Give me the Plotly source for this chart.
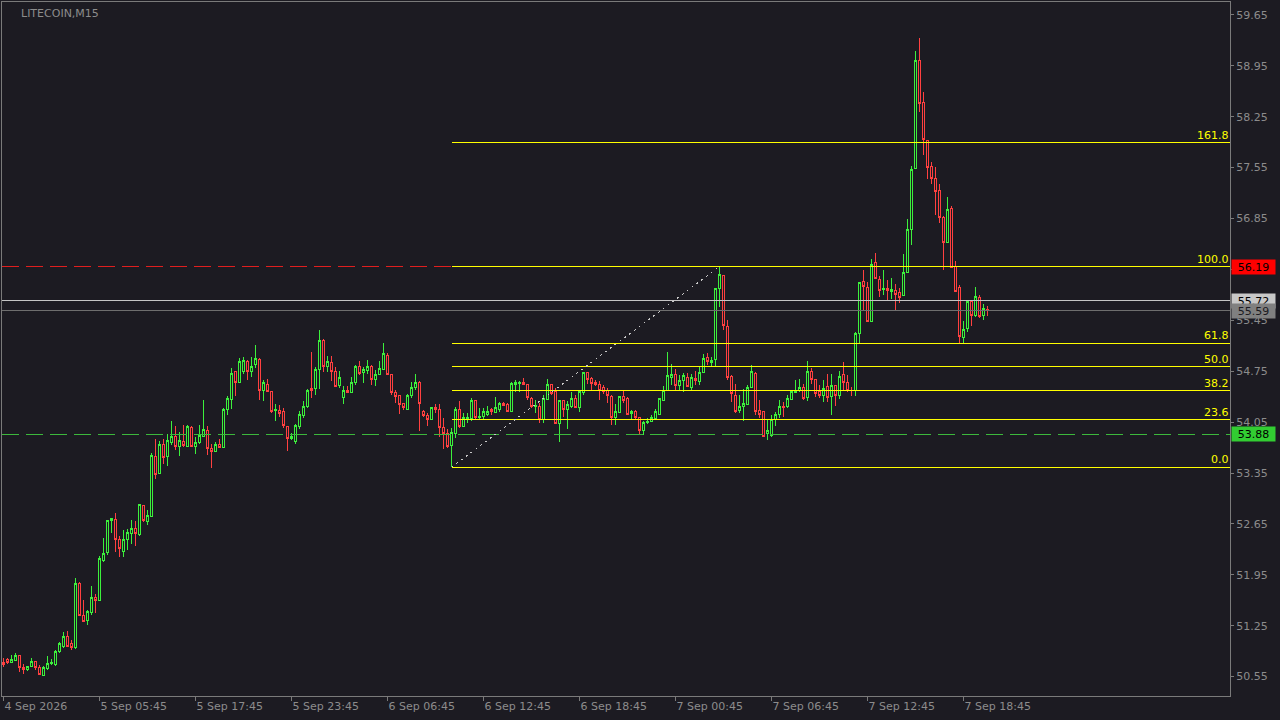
import plotly.graph_objects as go

# ---------------- data ----------------
open_ = [50.74, 50.78, 50.75, 50.77, 50.84, 50.68, 50.65, 50.69, 50.76, 50.67,
         50.56, 50.66, 50.73, 50.71, 50.89, 50.97, 51.10, 51.00, 50.95, 51.83,
         51.39, 51.32, 51.43, 51.64, 51.59, 52.15, 52.25, 52.69, 52.71, 52.44,
         52.27, 52.44, 52.52, 52.58, 52.51, 52.91, 52.68, 52.75, 53.58, 53.34,
         53.74, 53.58, 53.77, 53.85, 53.71, 53.79, 53.71, 53.98, 53.71, 53.77,
         53.85, 53.94, 53.69, 53.64, 53.74, 53.70, 54.23, 54.36, 54.74, 54.59,
         54.74, 54.89, 54.74, 54.84, 54.91, 54.48, 54.57, 54.47, 54.21, 54.21,
         54.19, 53.99, 53.82, 53.78, 53.99, 54.14, 54.26, 54.51, 54.51, 54.78,
         55.17, 54.81, 54.87, 54.75, 54.55, 54.39, 54.49, 54.46, 54.59, 54.82,
         54.73, 54.76, 54.81, 54.63, 54.70, 54.78, 54.97, 54.71, 54.46, 54.41,
         54.30, 54.23, 54.41, 54.52, 54.60, 54.19, 54.14, 54.09, 54.25, 54.22,
         53.98, 53.89, 53.73, 53.90, 54.23, 53.99, 54.10, 54.10, 54.35, 54.11,
         54.13, 54.15, 54.22, 54.18, 54.22, 54.31, 54.29, 54.19, 54.57, 54.58,
         54.59, 54.57, 54.38, 54.26, 54.27, 54.09, 54.36, 54.57, 54.47, 54.03,
         54.35, 54.23, 54.27, 54.38, 54.25, 54.46, 54.73, 54.65, 54.60, 54.57,
         54.53, 54.48, 54.40, 54.11, 54.18, 54.40, 54.38, 54.17, 54.19, 54.12,
         53.93, 54.04, 54.06, 54.10, 54.16, 54.35, 54.48, 54.67, 54.70, 54.56,
         54.62, 54.67, 54.52, 54.65, 54.61, 54.73, 54.94, 54.87, 54.91, 55.89,
         56.07, 55.37, 54.68, 54.42, 54.21, 54.27, 54.29, 54.53, 54.72, 54.21,
         54.19, 53.90, 53.86, 54.09, 54.15, 54.27, 54.26, 54.36, 54.46, 54.48,
         54.52, 54.39, 54.75, 54.64, 54.47, 54.42, 54.54, 54.40, 54.55, 54.42,
         54.70, 54.60, 54.49, 54.48, 55.27, 55.99, 55.90, 55.44, 56.25, 56.01,
         55.87, 55.89, 55.84, 55.86, 55.83, 55.79, 56.11, 56.70, 57.54, 59.03,
         58.45, 57.93, 57.56, 57.40, 57.23, 56.86, 56.52, 56.99, 56.19, 55.90,
         55.22, 55.34, 55.71, 55.51, 55.77, 55.51, 55.60]
high = [50.80, 50.80, 50.85, 50.87, 50.85, 50.73, 50.69, 50.81, 50.77, 50.71,
        50.70, 50.83, 50.79, 50.91, 51.02, 51.16, 51.18, 51.05, 51.91, 51.85,
        51.61, 51.47, 51.79, 51.69, 52.21, 52.46, 52.70, 52.73, 52.80, 52.48,
        52.57, 52.58, 52.70, 52.69, 52.92, 52.91, 52.84, 53.63, 53.82, 53.79,
        53.82, 53.88, 54.07, 53.99, 53.92, 54.01, 54.01, 53.99, 53.84, 54.01,
        54.35, 53.99, 53.75, 53.78, 53.82, 54.24, 54.41, 54.79, 54.75, 54.93,
        54.94, 54.90, 54.94, 55.11, 54.93, 54.63, 54.64, 54.48, 54.30, 54.29,
        54.25, 54.00, 53.90, 54.02, 54.20, 54.34, 54.50, 55.01, 54.81, 55.32,
        55.19, 54.96, 54.96, 54.81, 54.75, 54.55, 54.55, 54.67, 54.84, 54.89,
        54.81, 54.91, 54.84, 54.76, 54.89, 55.14, 55.00, 54.71, 54.49, 54.42,
        54.31, 54.44, 54.60, 54.71, 54.62, 54.21, 54.17, 54.25, 54.30, 54.30,
        54.10, 53.96, 53.97, 54.26, 54.34, 54.17, 54.17, 54.38, 54.36, 54.24,
        54.25, 54.27, 54.25, 54.39, 54.32, 54.32, 54.31, 54.60, 54.63, 54.62,
        54.65, 54.58, 54.39, 54.35, 54.31, 54.42, 54.64, 54.58, 54.52, 54.35,
        54.36, 54.34, 54.47, 54.42, 54.47, 54.74, 54.74, 54.67, 54.63, 54.61,
        54.56, 54.52, 54.42, 54.30, 54.41, 54.48, 54.39, 54.21, 54.22, 54.12,
        54.06, 54.11, 54.15, 54.23, 54.38, 54.55, 55.01, 54.85, 54.78, 54.70,
        54.72, 54.73, 54.71, 54.75, 54.81, 54.99, 55.00, 54.95, 55.90, 56.19,
        56.07, 55.45, 54.70, 54.57, 54.42, 54.50, 54.56, 54.84, 54.74, 54.36,
        54.19, 54.08, 54.15, 54.19, 54.35, 54.33, 54.42, 54.49, 54.63, 54.64,
        54.58, 54.89, 54.80, 54.64, 54.56, 54.63, 54.71, 54.71, 54.56, 54.75,
        54.87, 54.70, 54.53, 55.29, 55.98, 56.14, 55.98, 56.30, 56.37, 56.06,
        56.14, 56.01, 56.03, 55.95, 55.89, 56.36, 56.85, 57.57, 59.15, 59.33,
        58.59, 57.93, 57.63, 57.56, 57.33, 56.88, 57.15, 57.02, 56.26, 55.94,
        55.44, 55.71, 55.72, 55.91, 55.80, 55.67, 55.65]
low = [50.68, 50.72, 50.74, 50.77, 50.61, 50.59, 50.63, 50.68, 50.64, 50.57,
       50.56, 50.64, 50.71, 50.69, 50.88, 50.95, 50.97, 50.92, 50.93, 51.39,
       51.31, 51.26, 51.40, 51.42, 51.59, 52.12, 52.22, 52.53, 52.27, 52.20,
       52.20, 52.29, 52.38, 52.34, 52.49, 52.68, 52.64, 52.75, 53.27, 53.34,
       53.47, 53.45, 53.73, 53.66, 53.58, 53.71, 53.71, 53.71, 53.61, 53.75,
       53.85, 53.60, 53.42, 53.64, 53.69, 53.70, 54.15, 54.23, 54.41, 54.59,
       54.71, 54.63, 54.67, 54.79, 54.35, 54.34, 54.46, 54.17, 54.06, 54.12,
       53.97, 53.65, 53.81, 53.75, 53.95, 54.11, 54.25, 54.38, 54.42, 54.50,
       54.74, 54.74, 54.62, 54.53, 54.52, 54.30, 54.45, 54.45, 54.56, 54.70,
       54.59, 54.71, 54.56, 54.55, 54.70, 54.78, 54.71, 54.42, 54.31, 54.16,
       54.22, 54.21, 54.38, 54.49, 53.93, 54.12, 54.00, 54.08, 54.17, 53.85,
       53.68, 53.69, 53.43, 53.83, 53.97, 53.99, 54.04, 54.06, 54.09, 54.09,
       54.09, 54.13, 54.15, 54.17, 54.19, 54.27, 54.19, 54.19, 54.47, 54.47,
       54.56, 54.36, 54.25, 54.18, 54.04, 54.04, 54.35, 54.42, 54.03, 53.77,
       54.12, 53.95, 54.25, 54.24, 54.19, 54.42, 54.58, 54.49, 54.54, 54.35,
       54.44, 54.31, 54.01, 54.01, 54.18, 54.31, 54.15, 54.08, 54.08, 53.87,
       53.87, 54.02, 54.06, 54.08, 54.16, 54.35, 54.48, 54.56, 54.49, 54.48,
       54.46, 54.54, 54.49, 54.56, 54.56, 54.72, 54.84, 54.81, 54.81, 55.63,
       55.32, 54.63, 54.33, 54.17, 54.17, 54.06, 54.29, 54.52, 54.15, 54.10,
       53.85, 53.81, 53.85, 53.99, 54.10, 54.12, 54.25, 54.35, 54.45, 54.47,
       54.35, 54.34, 54.58, 54.40, 54.38, 54.33, 54.32, 54.15, 54.27, 54.37,
       54.49, 54.46, 54.41, 54.41, 55.12, 55.59, 55.43, 55.44, 56.03, 55.77,
       55.80, 55.73, 55.75, 55.59, 55.69, 55.79, 56.11, 56.49, 57.54, 58.31,
       57.72, 57.39, 57.33, 56.90, 56.79, 56.14, 56.51, 56.18, 55.84, 55.13,
       55.12, 55.29, 55.37, 55.49, 55.48, 55.45, 55.51]
close = [50.71, 50.74, 50.78, 50.84, 50.68, 50.65, 50.69, 50.76, 50.68, 50.58,
         50.67, 50.73, 50.74, 50.90, 51.01, 51.10, 50.97, 50.95, 51.83, 51.39,
         51.31, 51.45, 51.64, 51.59, 52.17, 52.24, 52.69, 52.73, 52.44, 52.31,
         52.44, 52.53, 52.58, 52.52, 52.92, 52.69, 52.76, 53.59, 53.33, 53.74,
         53.57, 53.80, 53.85, 53.71, 53.80, 53.73, 53.99, 53.71, 53.77, 53.86,
         53.95, 53.69, 53.64, 53.74, 53.70, 54.23, 54.38, 54.72, 54.59, 54.89,
         54.90, 54.74, 54.82, 54.93, 54.48, 54.59, 54.47, 54.19, 54.22, 54.17,
         54.00, 53.83, 53.85, 54.00, 54.16, 54.27, 54.49, 54.48, 54.78, 55.17,
         54.81, 54.89, 54.74, 54.54, 54.67, 54.49, 54.46, 54.60, 54.81, 54.72,
         54.77, 54.82, 54.63, 54.71, 54.79, 54.99, 54.71, 54.46, 54.40, 54.29,
         54.25, 54.41, 54.53, 54.60, 54.30, 54.14, 54.09, 54.25, 54.23, 53.97,
         53.89, 53.71, 53.91, 54.22, 53.99, 54.11, 54.11, 54.35, 54.12, 54.13,
         54.19, 54.20, 54.19, 54.25, 54.31, 54.28, 54.19, 54.58, 54.60, 54.60,
         54.57, 54.39, 54.26, 54.28, 54.09, 54.38, 54.57, 54.45, 54.03, 54.35,
         54.23, 54.29, 54.38, 54.25, 54.47, 54.73, 54.64, 54.58, 54.57, 54.48,
         54.47, 54.42, 54.12, 54.20, 54.40, 54.35, 54.16, 54.20, 54.12, 53.93,
         54.05, 54.06, 54.11, 54.19, 54.37, 54.48, 54.69, 54.71, 54.56, 54.62,
         54.69, 54.54, 54.67, 54.62, 54.73, 54.93, 54.88, 54.90, 55.89, 56.08,
         55.38, 54.67, 54.44, 54.19, 54.27, 54.31, 54.53, 54.75, 54.19, 54.16,
         53.85, 53.93, 54.09, 54.15, 54.27, 54.25, 54.38, 54.47, 54.49, 54.53,
         54.38, 54.75, 54.64, 54.45, 54.41, 54.51, 54.39, 54.56, 54.41, 54.68,
         54.59, 54.48, 54.48, 55.27, 55.97, 55.91, 55.44, 56.22, 56.03, 55.86,
         55.89, 55.86, 55.87, 55.81, 55.77, 56.11, 56.70, 57.52, 59.02, 58.43,
         57.94, 57.55, 57.40, 57.22, 56.86, 56.52, 56.97, 56.18, 55.85, 55.23,
         55.33, 55.71, 55.51, 55.78, 55.50, 55.61, 55.59]

bar_index = list(range(len(close)))

time_labels = ["4 Sep 2026", "5 Sep 05:45", "5 Sep 17:45", "5 Sep 23:45",
               "6 Sep 06:45", "6 Sep 12:45", "6 Sep 18:45", "7 Sep 00:45",
               "7 Sep 06:45", "7 Sep 12:45", "7 Sep 18:45"]
time_label_bars = [0, 24, 48, 72, 96, 120, 144, 168, 192, 216, 240]

price_ticks = [59.65, 58.95, 58.25, 57.55, 56.85, 56.15, 55.45, 54.75,
               54.05, 53.35, 52.65, 51.95, 51.25, 50.55]
# tick label hidden behind the red price box in the reference
hidden_tick_labels = [56.15]

fib_levels = [0.0, 23.6, 38.2, 50.0, 61.8, 100.0, 161.8]
fib_low_price = 53.43
fib_high_price = 56.19
fib_low_bar = 112
fib_high_bar = 179

ask_price = 55.72
bid_price = 55.59
red_level = 56.19
green_level = 53.88

symbol_title = "LITECOIN,M15"

# ---------------- style ----------------
BG = "#1c1b22"
GREEN = "#3cf03c"
RED = "#ff4040"
AXIS = "#7a7a7a"
TEXT = "#8c8c8c"
YELLOW = "#ffff00"
FONT = "DejaVu Sans"

# bar centres land on pixel centres (4 px per bar)
X_MIN, X_MAX = -0.375, 306.625
Y_MIN, Y_MAX = 50.283, 59.828

fig = go.Figure()

fig.add_trace(go.Candlestick(
    x=bar_index, open=open_, high=high, low=low, close=close,
    increasing=dict(line=dict(color=GREEN, width=1), fillcolor=BG),
    decreasing=dict(line=dict(color=RED, width=1), fillcolor=BG),
    whiskerwidth=0, hoverinfo="skip", showlegend=False,
))

shapes = []
shapes.append(dict(type="line", xref="paper", yref="y", x0=0, x1=1,
                   y0=red_level, y1=red_level, layer="above",
                   line=dict(color="#e01e1e", width=1, dash="17px,7px")))
shapes.append(dict(type="line", xref="paper", yref="y", x0=0, x1=1,
                   y0=green_level, y1=green_level, layer="above",
                   line=dict(color="#3cb83c", width=1, dash="17px,7px")))
shapes.append(dict(type="line", xref="paper", yref="y", x0=0, x1=1,
                   y0=ask_price, y1=ask_price, layer="above",
                   line=dict(color="#c4c4c4", width=1)))
shapes.append(dict(type="line", xref="paper", yref="y", x0=0, x1=1,
                   y0=bid_price, y1=bid_price, layer="above",
                   line=dict(color="#6e6e6e", width=1)))

annotations = []
fib_range = fib_high_price - fib_low_price
for lvl in fib_levels:
    p = fib_low_price + fib_range * lvl / 100.0
    shapes.append(dict(type="line", xref="x", yref="y", x0=fib_low_bar, x1=X_MAX,
                       y0=p, y1=p, layer="above",
                       line=dict(color=YELLOW, width=1)))
    annotations.append(dict(xref="paper", yref="y", x=1, y=p, xanchor="right",
                            yanchor="bottom", xshift=1, yshift=-1,
                            text=f"{lvl:.1f}", showarrow=False,
                            font=dict(family=FONT, size=11, color=YELLOW)))
shapes.append(dict(type="line", xref="x", yref="y", x0=fib_low_bar, x1=fib_high_bar,
                   y0=fib_low_price, y1=fib_high_price, layer="above",
                   line=dict(color="#c8c8c8", width=1, dash="2px,4px")))


def price_box(p, bg, fg, yshift=0):
    return dict(xref="paper", yref="y", x=1, y=p, xanchor="left", yanchor="middle",
                xshift=1, yshift=yshift, text=f"{p:.2f}", showarrow=False,
                width=41, height=12, align="center", bgcolor=bg, borderpad=1,
                font=dict(family=FONT, size=11, color=fg))


annotations.append(price_box(red_level, "#ff0000", "#000000"))
annotations.append(price_box(ask_price, "#c8c8c8", "#000000"))
annotations.append(price_box(bid_price, "#808080", "#1c1b22", yshift=-1))
annotations.append(price_box(green_level, "#32cd32", "#000000"))

annotations.append(dict(xref="paper", yref="paper", x=0, y=1, xanchor="left",
                        yanchor="top", xshift=17, yshift=-3, text=symbol_title,
                        showarrow=False, font=dict(family=FONT, size=11, color=TEXT)))

fig.update_layout(
    width=1280, height=720, autosize=False,
    paper_bgcolor=BG, plot_bgcolor=BG,
    margin=dict(l=2, r=50, t=2, b=24),
    shapes=shapes, annotations=annotations,
    boxgap=0.5, showlegend=False,
    font=dict(family=FONT, size=11, color=TEXT),
    xaxis=dict(range=[X_MIN, X_MAX], showgrid=False, zeroline=False,
               rangeslider=dict(visible=False),
               tickmode="array", tickvals=time_label_bars, ticktext=time_labels,
               ticks="outside", ticklen=4, tickcolor=AXIS,
               ticklabelposition="outside right",
               showline=True, linecolor=AXIS, linewidth=1, mirror=True,
               tickfont=dict(family=FONT, size=11, color=TEXT)),
    yaxis=dict(range=[Y_MIN, Y_MAX], side="right", showgrid=False, zeroline=False,
               tickmode="array", tickvals=price_ticks,
               ticktext=["" if v in hidden_tick_labels else f"{v:.2f}" for v in price_ticks],
               ticks="outside", ticklen=3, tickcolor=AXIS,
               showline=True, linecolor=AXIS, linewidth=1, mirror=True,
               tickfont=dict(family=FONT, size=11, color=TEXT)),
)

crisp = ("document.body.style.margin='0';"
         "var s=document.createElement('style');"
         "s.textContent='.boxlayer path, .shapelayer path{shape-rendering:crispEdges !important;}';"
         "document.head.appendChild(s);")

fig.write_html("out.html", config={"displayModeBar": False}, post_script=crisp)
